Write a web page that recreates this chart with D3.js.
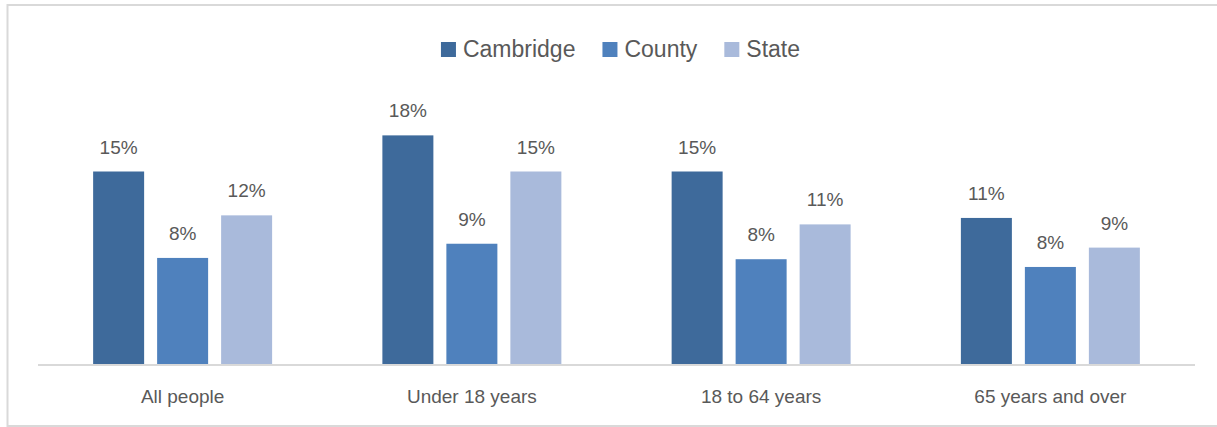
<!DOCTYPE html>
<html>
<head>
<meta charset="utf-8">
<script src="https://cdn.jsdelivr.net/npm/d3@7"></script>
<style>
  html, body { margin: 0; padding: 0; background: #ffffff; }
  svg { display: block; }
</style>
</head>
<body>
<svg id="chart" width="1217" height="427"></svg>
<script>
const categories = ["All people", "Under 18 years", "18 to 64 years", "65 years and over"];
const seriesNames = ["Cambridge", "County", "State"];
const cambridge = [0.150, 0.178, 0.150, 0.114];
const county = [0.083, 0.094, 0.082, 0.076];
const state = [0.116, 0.150, 0.109, 0.091];
const colors = ["#3e6a9b", "#4f81bd", "#a9badb"];

const seriesValues = [cambridge, county, state];
const rows = categories.map((c, i) => ({
  category: c,
  values: seriesNames.map((s, j) => ({ series: s, value: seriesValues[j][i], color: colors[j] }))
}));

const svg = d3.select("#chart");
const textColor = "#595959";
const font = "'Liberation Sans', Arial, sans-serif";

// outer border
svg.append("rect")
  .attr("x", 7.5).attr("y", 5)
  .attr("width", 1220).attr("height", 421)
  .attr("fill", "none")
  .attr("stroke", "#d9d9d9")
  .attr("stroke-width", 2);

const left = 38, right = 1195, baseline = 365;
const x0 = d3.scaleBand().domain(categories).range([left, right])
  .paddingInner(0.3812).paddingOuter(0.1906);
const x1 = d3.scaleBand().domain(seriesNames).range([0, x0.bandwidth()])
  .paddingInner(13 / 64).paddingOuter(0);
const y = d3.scaleLinear().domain([0, 0.2]).range([baseline, baseline - 258]);

const groups = svg.append("g").selectAll("g")
  .data(rows).join("g")
  .attr("transform", d => `translate(${x0(d.category)},0)`);

groups.selectAll("rect")
  .data(d => d.values).join("rect")
  .attr("x", d => x1(d.series))
  .attr("y", d => y(d.value))
  .attr("width", x1.bandwidth())
  .attr("height", d => baseline - y(d.value))
  .attr("fill", d => d.color);

const fmt = d3.format(".0%");
groups.selectAll("text.val")
  .data(d => d.values).join("text")
  .attr("class", "val")
  .attr("x", d => x1(d.series) + x1.bandwidth() / 2)
  .attr("y", d => y(d.value) - 18)
  .attr("text-anchor", "middle")
  .attr("font-family", font)
  .attr("font-size", 19)
  .attr("fill", textColor)
  .text(d => fmt(d.value));

// axis baseline
const xAxis = d3.axisBottom(x0).tickSize(0).tickPadding(0);
const axisG = svg.append("g")
  .attr("transform", `translate(0,${baseline})`)
  .call(xAxis);
axisG.select(".domain").attr("stroke", "#d9d9d9").attr("stroke-width", 2)
  .attr("d", `M${left},0H${right}`);
axisG.selectAll(".tick text")
  .attr("y", 38)
  .attr("dy", 0)
  .attr("font-family", font)
  .attr("font-size", 19)
  .attr("fill", textColor);

// legend
const legend = svg.append("g");
const items = legend.selectAll("g").data(seriesNames).join("g");
items.append("rect")
  .attr("width", 15).attr("height", 15)
  .attr("y", 42)
  .attr("fill", (d, i) => colors[i]);
items.append("text")
  .attr("x", 22)
  .attr("y", 57)
  .attr("font-family", font)
  .attr("font-size", 23)
  .attr("fill", textColor)
  .text(d => d);
let widths = [];
items.each(function () {
  widths.push(22 + d3.select(this).select("text").node().getComputedTextLength());
});
const gap = 27;
const total = d3.sum(widths) + gap * (widths.length - 1);
let cx = 620.5 - total / 2;
items.attr("transform", (d, i) => {
  const t = `translate(${cx},0)`;
  cx += widths[i] + gap;
  return t;
});
</script>
</body>
</html>
